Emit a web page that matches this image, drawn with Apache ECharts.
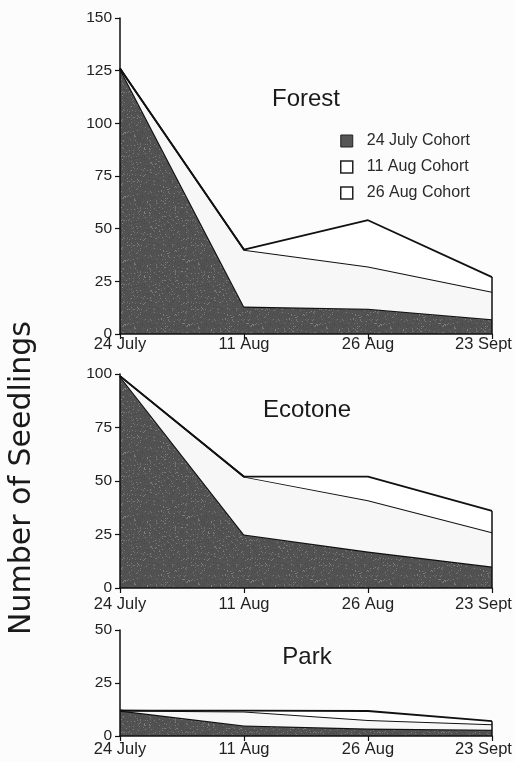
<!DOCTYPE html>
<html>
<head>
<meta charset="utf-8">
<script src="https://cdn.jsdelivr.net/npm/echarts@6/dist/echarts.min.js"></script>
<style>
  html, body { margin: 0; padding: 0; background: #fcfcfc; }
  #chart { width: 514px; height: 762px; }
</style>
</head>
<body>
<div id="chart"></div>
<script>
// Sampling dates (x axis) and cohort names
const categories = ['24 July', '11 Aug', '26 Aug', '23 Sept'];
const cohortNames = ['24 July Cohort', '11 Aug Cohort', '26 Aug Cohort'];
const panelTitles = ['Forest', 'Ecotone', 'Park'];
const yMax = [150, 100, 50];
const yInterval = 25;

// Seedlings alive per cohort at each date (stacked)
const forestJuly24 = [126, 13, 12, 7];
const forestAug11 = [0, 27, 20, 13];
const forestAug26 = [0, 0, 22, 7];

const ecotoneJuly24 = [99, 25, 17, 10];
const ecotoneAug11 = [0, 27, 24, 16];
const ecotoneAug26 = [0, 0, 11, 10];

const parkJuly24 = [12, 5, 3.5, 3];
const parkAug11 = [0, 6.5, 4, 2.5];
const parkAug26 = [0, 0.5, 4.3, 1.5];

const panels = [
  [forestJuly24, forestAug11, forestAug26],
  [ecotoneJuly24, ecotoneAug11, ecotoneAug26],
  [parkJuly24, parkAug11, parkAug26]
];

// grid rectangles for the three stacked panels
const grids = [
  { left: 120, right: 22, top: 18, height: 316, outerBoundsMode: 'none' },
  { left: 120, right: 22, top: 374, height: 214, outerBoundsMode: 'none' },
  { left: 120, right: 22, top: 630, height: 106, outerBoundsMode: 'none' }
];
const xLabelMargin = [2, 8, 5];
const titlePos = [[306, 99], [307, 410], [307, 657]];

// speckled dark fill for the earliest cohort
function grainPattern() {
  const n = 64;
  const c = document.createElement('canvas');
  c.width = n; c.height = n;
  const ctx = c.getContext('2d');
  for (let y = 0; y < n; y++) {
    for (let x = 0; x < n; x++) {
      let h = (x * 374761393 + y * 668265263) >>> 0;
      h = Math.imul(h ^ (h >>> 13), 1274126177) >>> 0;
      h = (h ^ (h >>> 16)) & 255;
      let v = 76 + (h % 12);
      if (h > 236) v = 112 + (h - 236);
      ctx.fillStyle = 'rgb(' + v + ',' + v + ',' + v + ')';
      ctx.fillRect(x, y, 1, 1);
    }
  }
  return c;
}
const darkFill = { image: grainPattern(), repeat: 'repeat' };
const areaFills = [darkFill, '#f7f7f7', '#ffffff'];

const FONT = '"Liberation Sans", Arial, sans-serif';
const chart = echarts.init(document.getElementById('chart'), null, { renderer: 'canvas' });

const lastCat = categories[categories.length - 1];
const xAxes = [], yAxes = [], series = [];
grids.forEach((g, i) => {
  xAxes.push({
    type: 'category', gridIndex: i, data: categories, boundaryGap: false,
    axisLine: { lineStyle: { color: '#111', width: 1.5 } },
    axisTick: { show: true, interval: 0, length: 5, lineStyle: { color: '#111', width: 1.2 } },
    axisLabel: {
      interval: 0, hideOverlap: false,
      color: '#222', fontSize: 16.5, fontFamily: FONT, margin: xLabelMargin[i],
      formatter: v => v === lastCat ? '{end|' + v + '}' : v,
      rich: { end: { fontSize: 16.5, fontFamily: FONT, color: '#222', padding: [0, 17, 0, 0] } }
    },
    splitLine: { show: false }, z: 5
  });
  yAxes.push({
    type: 'value', gridIndex: i, min: 0, max: yMax[i], interval: yInterval,
    axisLine: { show: true, lineStyle: { color: '#111', width: 1.5 } },
    axisTick: { show: true, length: 5, lineStyle: { color: '#111', width: 1.2 } },
    axisLabel: { color: '#222', fontSize: 15.5, fontFamily: FONT, margin: 8 },
    splitLine: { show: false }, z: 5
  });
  const cohorts = panels[i];
  cohorts.forEach((vals, k) => {
    const s = {
      name: cohortNames[k], type: 'line', xAxisIndex: i, yAxisIndex: i,
      stack: 'panel' + i, data: vals, symbol: 'none', silent: true,
      lineStyle: { color: '#111', width: k === 0 ? 2.2 : 1.8 },
      itemStyle: { color: k === 0 ? '#555' : '#fff' },
      areaStyle: { color: areaFills[k], opacity: 1 },
      z: 2 + k
    };
    if (k === cohorts.length - 1) {
      const last = categories.length - 1;
      const total = cohorts.reduce((acc, arr) => acc + arr[last], 0);
      s.markLine = {
        silent: true, symbol: 'none', label: { show: false },
        lineStyle: { color: '#111', width: 1.5, type: 'solid' },
        data: [[{ coord: [lastCat, 0] }, { coord: [lastCat, total] }]]
      };
    }
    series.push(s);
  });
});

const graphics = panelTitles.map((t, i) => ({
  type: 'text', x: titlePos[i][0], y: titlePos[i][1], silent: true,
  style: { text: t, fontSize: 24, fontFamily: FONT, fill: '#1a1a1a', align: 'center', verticalAlign: 'middle' }
}));
graphics.push({
  type: 'text', x: 22, y: 478, rotation: Math.PI / 2, silent: true,
  style: { text: 'Number of Seedlings', fontSize: 30, fontFamily: 'DejaVu Sans', fill: '#1a1a1a', align: 'center', verticalAlign: 'middle' }
});

chart.setOption({
  backgroundColor: '#fcfcfc',
  animation: false,
  grid: grids,
  xAxis: xAxes,
  yAxis: yAxes,
  legend: {
    orient: 'vertical', left: 335, top: 128, icon: 'rect',
    itemWidth: 12, itemHeight: 12, itemGap: 10,
    textStyle: { color: '#2a2a2a', fontSize: 16, fontFamily: FONT, padding: [0, 0, 0, 9] },
    data: [
      { name: cohortNames[0], itemStyle: { color: '#555', borderColor: '#222', borderWidth: 1 } },
      { name: cohortNames[1], itemStyle: { color: '#fff', borderColor: '#222', borderWidth: 1.5 } },
      { name: cohortNames[2], itemStyle: { color: '#fff', borderColor: '#222', borderWidth: 1.5 } }
    ],
    selectedMode: false
  },
  graphic: graphics,
  series: series
});
</script>
</body>
</html>
